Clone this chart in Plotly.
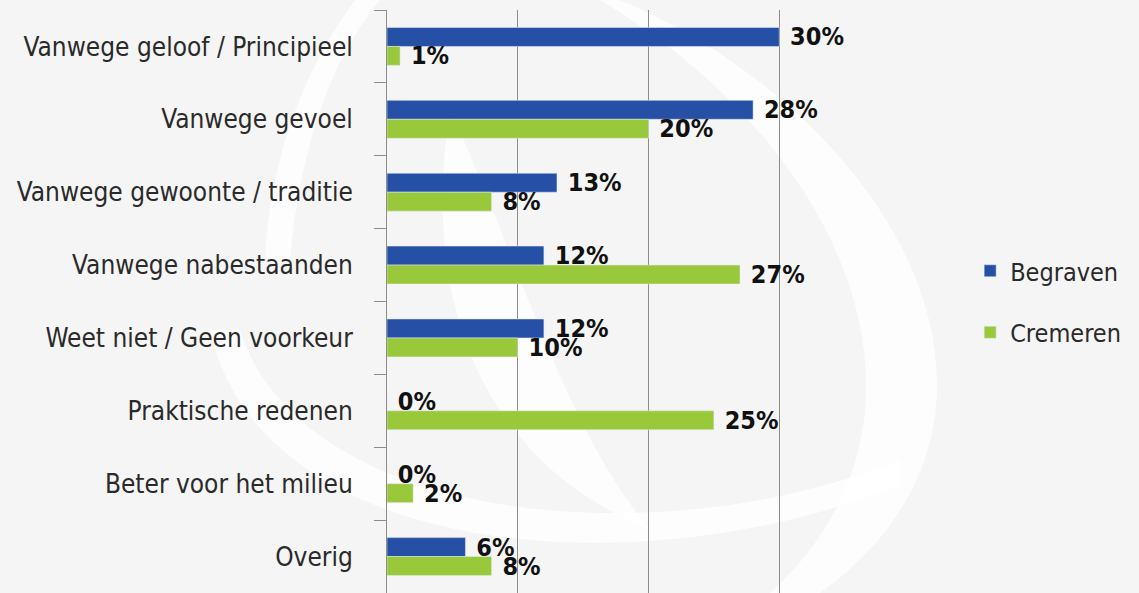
import plotly.graph_objects as go

# Redenen voor de keuze tussen begraven en cremeren
categorieen = ["Vanwege geloof / Principieel", "Vanwege gevoel", "Vanwege gewoonte / traditie",
               "Vanwege nabestaanden", "Weet niet / Geen voorkeur", "Praktische redenen",
               "Beter voor het milieu", "Overig"]
begraven = [30, 28, 13, 12, 12, 0, 0, 6]
cremeren = [1, 20, 8, 27, 10, 25, 2, 8]
x_ticks = [0, 10, 20, 30, 40]

FONT = "DejaVu Sans Condensed, Liberation Sans Narrow, sans-serif"
BLAUW = "#2550a5"
GROEN = "#99c83b"

# plotgebied in pixels (voor het watermerk)
L, R, T, B = 387, 910, 10, 593


def px(x, y):
    return (x - L) / (R - L), (B - y) / (B - T)


def pad(punten):
    d = ""
    for cmd, pts in punten:
        d += cmd + " " + " ".join("%.4f,%.4f" % px(*p) for p in pts) + " "
    return d.strip()


fig = go.Figure()
for naam, waarden, kleur in [("Begraven", begraven, BLAUW), ("Cremeren", cremeren, GROEN)]:
    fig.add_trace(go.Bar(y=categorieen, x=waarden, name=naam, orientation="h",
                         legendgroup=naam, marker=dict(color=kleur),
                         texttemplate="\u00a0%{x}%", textposition="outside",
                         constraintext="none", cliponaxis=False,
                         textfont=dict(family=FONT, size=25, color="#111111", weight="bold")))

# watermerk: witte logo-vormen op de achtergrond
wit = "rgba(255,255,255,0.75)"
vormen = []
vormen.append(dict(type="path", xref="paper", yref="paper", layer="below",
                   path=pad([("M", [(620, 0)]), ("C", [(900, 120), (1060, 420), (820, 593)]),
                             ("L", [(770, 593)]), ("C", [(960, 420), (850, 150), (600, 0)]), ("Z", [])]),
                   fillcolor=wit, line=dict(width=0)))
vormen.append(dict(type="path", xref="paper", yref="paper", layer="below",
                   path=pad([("M", [(240, 330)]), ("C", [(300, 520), (650, 560), (900, 460)]),
                             ("L", [(900, 485)]), ("C", [(640, 590), (260, 560), (210, 330)]), ("Z", [])]),
                   fillcolor=wit, line=dict(width=0)))
vormen.append(dict(type="path", xref="paper", yref="paper", layer="below",
                   path=pad([("M", [(450, 110)]), ("C", [(420, 300), (480, 460), (650, 530)]),
                             ("C", [(560, 420), (520, 260), (450, 110)]), ("Z", [])]),
                   fillcolor=wit, line=dict(width=0)))
vormen.append(dict(type="path", xref="paper", yref="paper", layer="below",
                   path=pad([("M", [(380, 0)]), ("C", [(330, 60), (300, 150), (290, 260)]),
                             ("L", [(265, 260)]), ("C", [(270, 150), (310, 60), (355, 0)]), ("Z", [])]),
                   fillcolor=wit, line=dict(width=0)))

fig.update_layout(
    width=1139, height=593,
    margin=dict(l=L, r=1139 - R, t=T, b=0),
    paper_bgcolor="#f5f5f5", plot_bgcolor="rgba(0,0,0,0)",
    barmode="group", bargap=0.48, bargroupgap=0,
    font=dict(family=FONT, size=26, color="#2a2a2a"),
    showlegend=True,
    legend=dict(x=1.115, y=0.5, xanchor="left", yanchor="middle",
                font=dict(family=FONT, size=25, color="#2a2a2a"),
                bgcolor="rgba(0,0,0,0)", tracegroupgap=26, itemwidth=30),
    shapes=vormen,
)
fig.update_xaxes(range=[0, 40], tickvals=x_ticks, showticklabels=False, showgrid=True,
                 gridcolor="#8c8c8c", gridwidth=1, zeroline=False, showline=False)
fig.update_yaxes(autorange="reversed", showline=True, linecolor="#8c8c8c", linewidth=1,
                 ticks="outside", ticklen=12, tickcolor="#8c8c8c", tickson="boundaries",
                 ticklabelstandoff=28, showgrid=False)

fig.write_html("out.html", config={"displayModeBar": False},
               post_script="document.body.style.margin='0';")
